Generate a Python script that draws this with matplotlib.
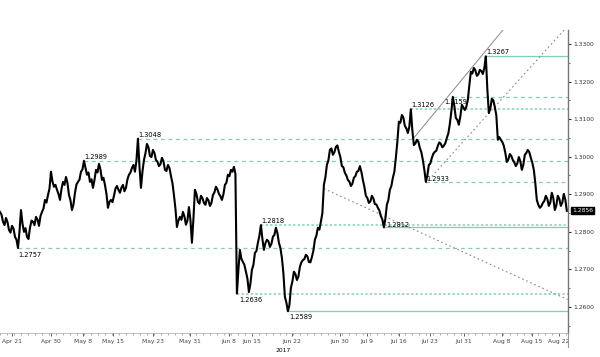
import matplotlib
matplotlib.use("Agg")
import matplotlib.pyplot as plt
import matplotlib.ticker as mticker
from matplotlib.lines import Line2D

# closes, one per step on the session axis
price = [
    1.2853, 1.2827, 1.2837, 1.2805, 1.2816, 1.2787, 1.2757, 1.2858, 1.2800, 1.2787,
    1.2811, 1.2827, 1.2840, 1.2816, 1.2853, 1.2885, 1.2898, 1.2960, 1.2920, 1.2912,
    1.2885, 1.2933, 1.2946, 1.2898, 1.2858, 1.2904, 1.2933, 1.2960, 1.2989, 1.2952,
    1.2933, 1.2917, 1.2965, 1.2981, 1.2938, 1.2925, 1.2864, 1.2885, 1.2896, 1.2922,
    1.2904, 1.2925, 1.2917, 1.2952, 1.2970, 1.2960, 1.3048, 1.2917, 1.2991, 1.3034,
    1.3002, 1.3018, 1.2991, 1.2975, 1.2997, 1.2965, 1.2978, 1.2949, 1.2898, 1.2813,
    1.2840, 1.2853, 1.2819, 1.2866, 1.2771, 1.2912, 1.2880, 1.2896, 1.2877, 1.2890,
    1.2869, 1.2898, 1.2920, 1.2901, 1.2885, 1.2925, 1.2952, 1.2965, 1.2973, 1.2636,
    1.2752, 1.2720, 1.2694, 1.2640, 1.2699, 1.2744, 1.2771, 1.2818, 1.2752, 1.2779,
    1.2760, 1.2787, 1.2811, 1.2771, 1.2731, 1.2627, 1.2589, 1.2651, 1.2694, 1.2672,
    1.2707, 1.2725, 1.2739, 1.2720, 1.2733, 1.2779, 1.2811, 1.2827, 1.2925, 1.2978,
    1.3018, 1.3005, 1.3026, 1.3013, 1.2975, 1.2957, 1.2938, 1.2922, 1.2944, 1.2960,
    1.2975, 1.2938, 1.2896, 1.2877, 1.2896, 1.2874, 1.2864, 1.2842, 1.2812, 1.2872,
    1.2912, 1.2944, 1.2997, 1.3093, 1.3111, 1.3082, 1.3063, 1.3126, 1.3031, 1.3045,
    1.3023, 1.2991, 1.2933, 1.2978, 1.2997, 1.3013, 1.3029, 1.3034, 1.3029, 1.3050,
    1.3087, 1.3159, 1.3103, 1.3085, 1.3138, 1.3124, 1.3151, 1.3226, 1.3236, 1.3215,
    1.3231, 1.3220, 1.3267, 1.3116, 1.3154, 1.3132, 1.3045, 1.3045, 1.3029, 1.2986,
    1.3007, 1.2991, 1.2975, 1.2999, 1.2965, 1.3005, 1.3018, 1.2997, 1.2965, 1.2885,
    1.2864, 1.2877, 1.2896, 1.2869, 1.2904, 1.2858, 1.2896, 1.2869, 1.2901, 1.2856,
]
# in-between readings (half a step after each close)
price_half = [
    1.2846, 1.2818, 1.2826, 1.2798, 1.2809, 1.2779, 1.2801, 1.2822, 1.2810, 1.2781,
    1.2830, 1.2818, 1.2833, 1.2842, 1.2862, 1.2878, 1.2915, 1.2934, 1.2925, 1.2901,
    1.2914, 1.2925, 1.2930, 1.2884, 1.2873, 1.2926, 1.2939, 1.2966, 1.2971, 1.2958,
    1.2940, 1.2938, 1.2958, 1.2966, 1.2944, 1.2901, 1.2880, 1.2879, 1.2915, 1.2912,
    1.2918, 1.2908, 1.2940, 1.2958, 1.2978, 1.2990, 1.2975, 1.2960, 1.3009, 1.3025,
    1.2999, 1.3010, 1.2987, 1.2980, 1.2988, 1.2962, 1.2970, 1.2930, 1.2862, 1.2830,
    1.2832, 1.2841, 1.2830, 1.2832, 1.2835, 1.2901, 1.2875, 1.2890, 1.2872, 1.2884,
    1.2877, 1.2905, 1.2913, 1.2895, 1.2900, 1.2931, 1.2948, 1.2960, 1.2955, 1.2700,
    1.2728, 1.2712, 1.2676, 1.2662, 1.2712, 1.2749, 1.2790, 1.2781, 1.2770, 1.2775,
    1.2768, 1.2792, 1.2797, 1.2757, 1.2690, 1.2612, 1.2605, 1.2668, 1.2688, 1.2681,
    1.2719, 1.2728, 1.2735, 1.2719, 1.2750, 1.2790, 1.2806, 1.2850, 1.2945, 1.2990,
    1.3022, 1.3012, 1.3030, 1.2999, 1.2972, 1.2950, 1.2934, 1.2928, 1.2948, 1.2962,
    1.2960, 1.2920, 1.2890, 1.2881, 1.2889, 1.2873, 1.2857, 1.2833, 1.2835, 1.2885,
    1.2922, 1.2960, 1.3040, 1.3090, 1.3104, 1.3075, 1.3080, 1.3070, 1.3035, 1.3040,
    1.3012, 1.2965, 1.2950, 1.2982, 1.3008, 1.3016, 1.3038, 1.3025, 1.3036, 1.3062,
    1.3120, 1.3135, 1.3098, 1.3107, 1.3131, 1.3133, 1.3190, 1.3221, 1.3230, 1.3219,
    1.3228, 1.3236, 1.3180, 1.3128, 1.3150, 1.3110, 1.3052, 1.3039, 1.3010, 1.2992,
    1.3002, 1.2985, 1.2982, 1.2988, 1.2978, 1.3010, 1.3012, 1.2984, 1.2930, 1.2872,
    1.2868, 1.2882, 1.2888, 1.2878, 1.2890, 1.2870, 1.2888, 1.2878, 1.2886,
]

# date labels and where they sit on the session axis
date_pos = [4, 17, 27.7, 37.7, 51, 63.3, 76.3, 84, 97.3, 113.3, 122.3, 133, 143.3, 154.7, 167.3, 177.3, 186.3]
date_lab = ["Apr 21", "Apr 30", "May 8", "May 15", "May 23", "May 31", "Jun 8", "Jun 15", "Jun 22",
            "Jun 30", "Jul 9", "Jul 16", "Jul 23", "Jul 31", "Aug 8", "Aug 15", "Aug 22"]

# pivot levels: index of the pivot bar, line style
pivot_idx = [6, 28, 46, 87, 79, 96, 128, 142, 137, 151, 162]
pivot_ls = ["dash", "dash", "dash", "dot", "dot", "solid", "solid", "dash", "dot", "dash", "solid"]
# label placement: offset in pixels from the pivot, horizontal alignment
pivot_off = [(0, -7), (0, 4), (0, 4), (0, 4), (2, -6), (1, -6), (2, 2), (0, 3), (0, 4), (3, -5), (0, 4)]
pivot_ha = ["left", "left", "left", "left", "left", "left", "left", "left", "left", "center", "left"]

# trend lines ((x0, p0), (x1, p1))
trend_solid = [((138, 1.3050), (168, 1.3340))]
trend_dotted = [((142, 1.2930), (189, 1.3345)), ((108, 1.2915), (189.3, 1.2620))]

teal = "#7fcfb0"
styles = {"dash": (0, (3, 3)), "dot": (0, (1.5, 1.5)), "solid": "-"}

xs, ys = [], []
for i, p in enumerate(price):
    xs.append(i)
    ys.append(p)
    if i < len(price_half):
        xs.append(i + 0.5)
        ys.append(price_half[i])

fig = plt.figure(figsize=(6, 3.57), dpi=100)
ax = fig.add_axes([0.0, 24 / 357, 568 / 600, 303 / 357])
xmax = 189.4

for i, ls in zip(pivot_idx, pivot_ls):
    ax.plot([i, xmax], [price[i], price[i]], color=teal, lw=0.9 if ls != "dot" else 1.1,
            linestyle=styles[ls], zorder=1)

for (a, b) in trend_solid:
    ax.plot([a[0], b[0]], [a[1], b[1]], color="#888888", lw=0.7, zorder=2)
for (a, b) in trend_dotted:
    ax.plot([a[0], b[0]], [a[1], b[1]], color="#888888", lw=0.8, linestyle=(0, (1.5, 2.5)), zorder=2)

ax.plot(xs, ys, color="black", lw=1.5, zorder=3)

for i, off, ha in zip(pivot_idx, pivot_off, pivot_ha):
    ax.annotate(f"{price[i]:.4f}", (i, price[i]), xytext=off, textcoords="offset pixels",
                fontsize=4.8, ha=ha, va="center", color="black", zorder=4)

ax.set_xlim(0, xmax)
ax.set_ylim(1.2531, 1.3337)

ax.yaxis.tick_right()
ax.yaxis.set_major_locator(mticker.MultipleLocator(0.01))
ax.yaxis.set_minor_locator(mticker.MultipleLocator(0.005))
ax.yaxis.set_major_formatter(mticker.FormatStrFormatter("%.4f"))
ax.tick_params(axis="y", which="major", labelsize=4.3, length=2.5, width=0.8, pad=1, colors="#333333")
ax.tick_params(axis="y", which="minor", length=1.5, width=0.6, colors="#555555")

ax.set_xticks(date_pos)
ax.set_xticklabels(date_lab)
ax.xaxis.set_minor_locator(mticker.MultipleLocator(2.33))
ax.tick_params(axis="x", which="major", labelsize=4.3, length=2, width=0.6, pad=2, colors="#444444")
ax.tick_params(axis="x", which="minor", length=1.5, width=0.5, colors="#888888")
ax.text(94.3, -0.05, "2017", transform=ax.get_xaxis_transform(), fontsize=4.3, ha="center", va="top")

for s in ["top", "left"]:
    ax.spines[s].set_visible(False)
ax.spines["bottom"].set_color("#aaaaaa")
ax.spines["bottom"].set_linewidth(0.5)
ax.spines["right"].set_color("#777777")
ax.spines["right"].set_linewidth(1.0)

# last price tag
ax.annotate(f"{price[-1]:.4f}", (1.0, price[-1]), xycoords=("axes fraction", "data"),
            xytext=(4, 0), textcoords="offset pixels", fontsize=4.3, color="white",
            ha="left", va="center", bbox=dict(boxstyle="square,pad=0.15", fc="black", ec="black"))

# small stub of the price axis under the date row
fig.add_artist(Line2D([568 / 600, 568 / 600], [24 / 357, 10 / 357], color="#999999", lw=0.8))

fig.savefig("out.png", dpi=100)
